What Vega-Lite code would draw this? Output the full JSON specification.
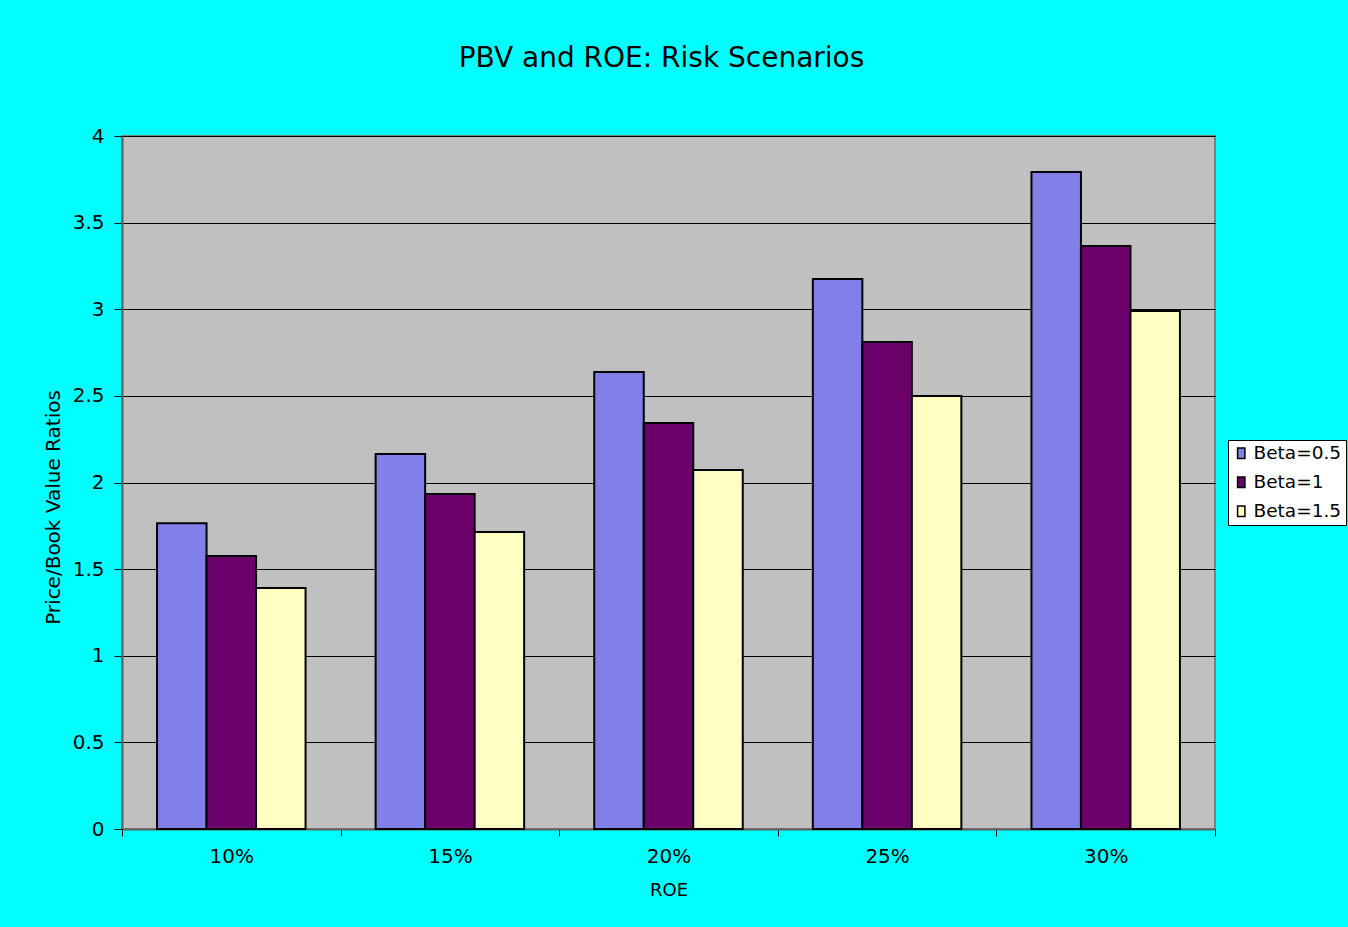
{
  "$schema": "https://vega.github.io/schema/vega-lite/v6.json",
  "autosize": {"type": "none"},
  "width": 1093,
  "height": 693,
  "padding": {"left": 122, "top": 136, "right": 133, "bottom": 98},
  "background": "#00FFFF",
  "title": {"text": "PBV and ROE: Risk Scenarios", "fontSize": 28, "font": "DejaVu Sans", "fontWeight": "normal", "color": "#000000", "offset": 53, "anchor": "middle", "dx": -7},
  "data": {"values": [
    {"ROE": "10%", "Beta": "Beta=0.5", "PBV": 1.765},
    {"ROE": "10%", "Beta": "Beta=1", "PBV": 1.576},
    {"ROE": "10%", "Beta": "Beta=1.5", "PBV": 1.391},
    {"ROE": "15%", "Beta": "Beta=0.5", "PBV": 2.165},
    {"ROE": "15%", "Beta": "Beta=1", "PBV": 1.934},
    {"ROE": "15%", "Beta": "Beta=1.5", "PBV": 1.714},
    {"ROE": "20%", "Beta": "Beta=0.5", "PBV": 2.638},
    {"ROE": "20%", "Beta": "Beta=1", "PBV": 2.343},
    {"ROE": "20%", "Beta": "Beta=1.5", "PBV": 2.072},
    {"ROE": "25%", "Beta": "Beta=0.5", "PBV": 3.175},
    {"ROE": "25%", "Beta": "Beta=1", "PBV": 2.811},
    {"ROE": "25%", "Beta": "Beta=1.5", "PBV": 2.499},
    {"ROE": "30%", "Beta": "Beta=0.5", "PBV": 3.792},
    {"ROE": "30%", "Beta": "Beta=1", "PBV": 3.365},
    {"ROE": "30%", "Beta": "Beta=1.5", "PBV": 2.99}
  ]},
  "mark": {"type": "bar", "stroke": "#000000", "strokeWidth": 2},
  "encoding": {
    "x": {
      "field": "ROE", "type": "nominal",
      "sort": ["10%", "15%", "20%", "25%", "30%"],
      "scale": {"paddingInner": 0, "paddingOuter": 0},
      "axis": {
        "title": "ROE", "labelAngle": 0, "tickBand": "extent",
        "domainColor": "#606060", "domainWidth": 2, "tickColor": "#000000", "tickSize": 7,
        "labelFontSize": 20, "labelPadding": 10, "labelColor": "#000000",
        "titleFontSize": 18, "titleFontWeight": "normal", "titlePadding": 15, "titleColor": "#000000"
      }
    },
    "xOffset": {
      "field": "Beta", "type": "nominal",
      "sort": ["Beta=0.5", "Beta=1", "Beta=1.5"],
      "scale": {"paddingInner": 0, "paddingOuter": 0.708}
    },
    "y": {
      "field": "PBV", "type": "quantitative",
      "scale": {"domain": [0, 4], "nice": false},
      "axis": {
        "title": "Price/Book Value Ratios", "format": "~g",
        "values": [0, 0.5, 1, 1.5, 2, 2.5, 3, 3.5, 4],
        "grid": true, "gridColor": "#000000", "gridWidth": 1, "gridOpacity": 1,
        "domainColor": "#606060", "domainWidth": 2, "tickColor": "#000000", "tickSize": 8,
        "labelFontSize": 20, "labelPadding": 10, "labelColor": "#000000",
        "titleFontSize": 20, "titleFontWeight": "normal", "titlePadding": 9, "titleColor": "#000000",
        "titleY": 371
      }
    },
    "fill": {
      "field": "Beta", "type": "nominal",
      "sort": ["Beta=0.5", "Beta=1", "Beta=1.5"],
      "scale": {"domain": ["Beta=0.5", "Beta=1", "Beta=1.5"], "range": ["#8080E8", "#6B006B", "#FFFFC4"]},
      "legend": {
        "title": null, "orient": "none", "legendX": 1106, "legendY": 304,
        "fillColor": "#FFFFFF", "strokeColor": "#000000", "padding": 4,
        "symbolType": "M-0.7,-1H0.7V1H-0.7Z", "symbolSize": 110,
        "symbolStrokeColor": "#000000", "symbolStrokeWidth": 1.5,
        "labelFontSize": 18.5, "labelColor": "#000000", "rowPadding": 10, "labelOffset": 3
      }
    }
  },
  "config": {
    "font": "DejaVu Sans",
    "view": {"fill": "#C0C0C0", "stroke": "#808080", "strokeWidth": 2}
  }
}
